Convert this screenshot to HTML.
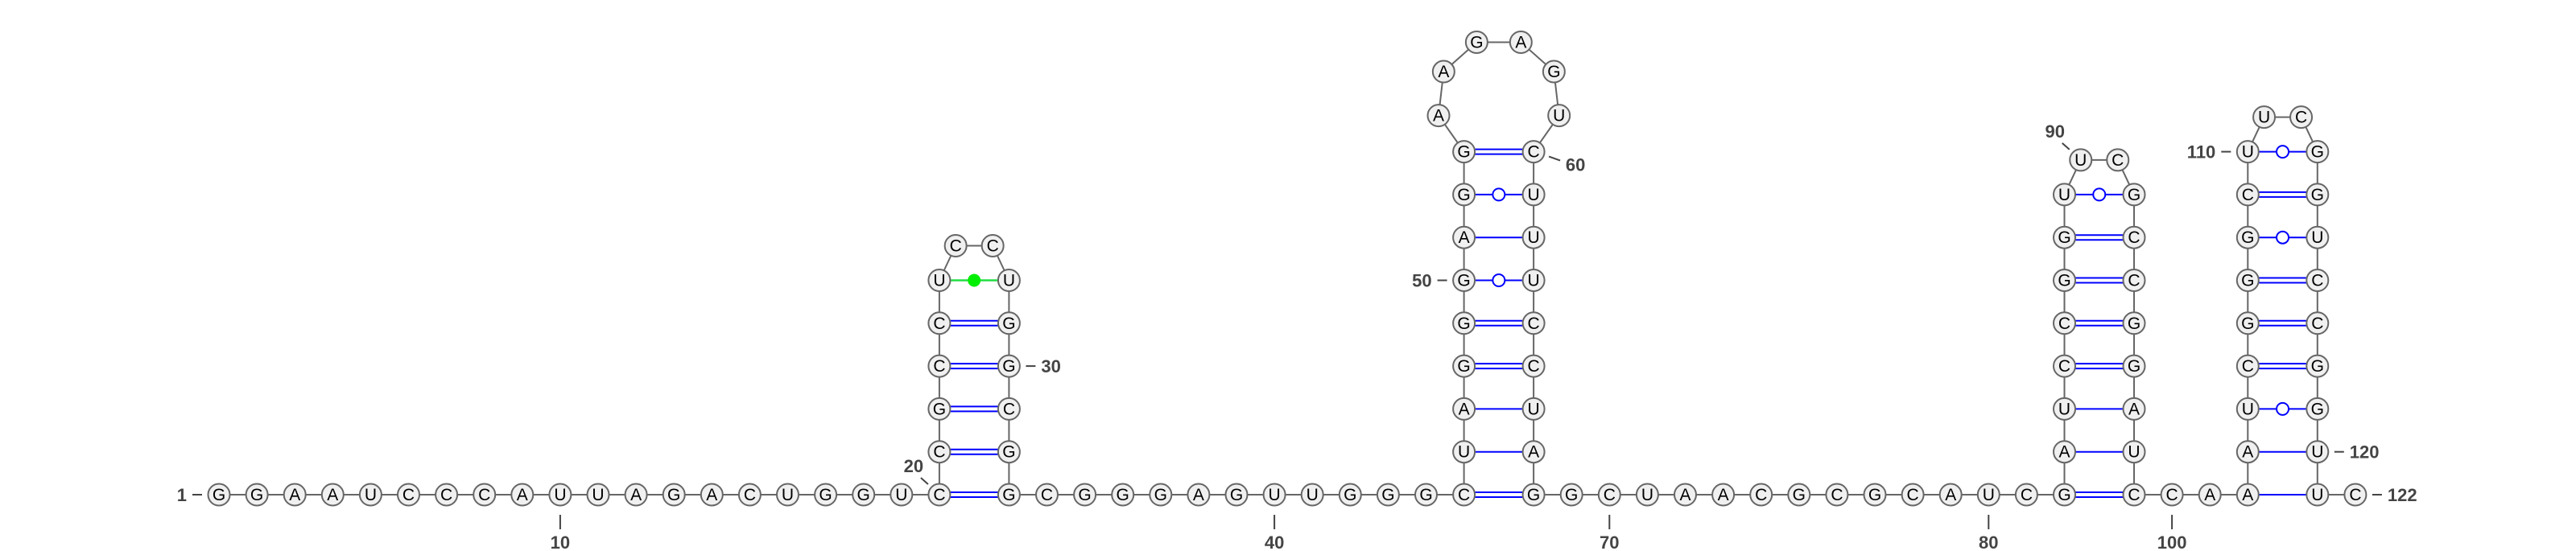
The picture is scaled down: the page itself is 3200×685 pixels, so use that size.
<!DOCTYPE html>
<html><head><meta charset="utf-8"><title>RNA secondary structure</title>
<style>html,body{margin:0;padding:0;background:#fff;}svg{display:block;}</style></head>
<body>
<svg id="chart" width="3200" height="685" viewBox="0 0 3200 685" xmlns="http://www.w3.org/2000/svg" font-family="'Liberation Sans', sans-serif">
<g id="backbone"></g>
<g id="pairs"></g>
<g id="nts"></g>
<g id="labels"></g>
</svg>
<script>
const sequence = "GGAAUCCCAUUAGACUGGU" + "CCGCCUCCUGGCGG" + "CGGGAGUUGGG" + "CUAGGGAGGAAGAGUCUUUCCUAG" + "GCUAACGCGCAUC" + "GAUCCGGUUCGCCGGAUC" + "CA" + "AAUCGGGCUUCGGUCCGGUUC";
const pairOpen  = [20,21,22,23,24,25, 45,46,47,48,49,50,51,52,53, 82,83,84,85,86,87,88,89, 102,103,104,105,106,107,108,109,110];
const pairClose = [33,32,31,30,29,28, 68,67,66,65,64,63,62,61,60, 99,98,97,96,95,94,93,92, 121,120,119,118,117,116,115,114,113];
const labelNums = [1,10,20,30,40,50,60,70,80,90,100,110,120,122];

const NS="http://www.w3.org/2000/svg";
const STEP=47.1, PW=86.5, ROW=53.3, BASE=615, X1=272, R=13.5;
const N=sequence.length;
const pos=new Array(N+1);
const partner={};
pairOpen.forEach((o,i)=>{partner[o]=pairClose[i];partner[pairClose[i]]=o;});
let x=X1;
let i=1;
while(i<=N){
  pos[i]={x:x,y:BASE};
  if(partner[i]&&partner[i]>i){
    const c=partner[i];
    let k=0,a=i,b=c;
    while(partner[a]===b){pos[a]={x:x,y:BASE-k*ROW};pos[b]={x:x+PW,y:BASE-k*ROW};a++;b--;k++;}
    const topY=BASE-(k-1)*ROW;
    const loopLen=b-a+1;
    if(loopLen===2){
      pos[a]={x:x+PW/2-23,y:topY-43};pos[b]={x:x+PW/2+23,y:topY-43};
    } else {
      const cx=x+PW/2, ry=topY-ROW*1.2;
      const rad=Math.hypot(PW/2,topY-ry);
      const a0=Math.atan2(topY-ry,-PW/2), a1=Math.atan2(topY-ry,PW/2);
      const start=a0, span=(2*Math.PI-(a0-a1));
      for(let j=0;j<loopLen;j++){
        const t=start+span*(j+1)/(loopLen+1);
        pos[a+j]={x:cx+rad*Math.cos(t),y:ry+rad*Math.sin(t)};
      }
    }
    pos[c]={x:x+PW,y:BASE};
    x+=PW+STEP; i=c+1;
  } else { x+=STEP; i++; }
}
function el(tag,attrs,parent){const e=document.createElementNS(NS,tag);for(const k in attrs)e.setAttribute(k,attrs[k]);parent.appendChild(e);return e;}
const gB=document.getElementById('backbone'),gP=document.getElementById('pairs'),gN=document.getElementById('nts'),gL=document.getElementById('labels');
for(let j=1;j<N;j++){
  const l=el('line',{x1:pos[j].x,y1:pos[j].y,x2:pos[j+1].x,y2:pos[j+1].y,stroke:'#666','stroke-width':2},gB);
  
  
}
pairOpen.forEach((o,k)=>{
  const c=pairClose[k];const p=pos[o],q=pos[c];
  const pr=sequence[o-1]+sequence[c-1];
  const g=el('g',{},gP);
  
  
  const x1=p.x+R,x2=q.x-R;
  if(pr==='GC'||pr==='CG'){
    el('line',{x1:x1,y1:p.y-3,x2:x2,y2:q.y-3,stroke:'#00f','stroke-width':2},g);
    el('line',{x1:x1,y1:p.y+3,x2:x2,y2:q.y+3,stroke:'#00f','stroke-width':2},g);
  } else if(pr==='AU'||pr==='UA'){
    el('line',{x1:x1,y1:p.y,x2:x2,y2:q.y,stroke:'#00f','stroke-width':2},g);
  } else if(pr==='GU'||pr==='UG'){
    el('line',{x1:x1,y1:p.y,x2:x2,y2:q.y,stroke:'#00f','stroke-width':2},g);
    el('circle',{cx:(p.x+q.x)/2,cy:p.y,r:7.5,fill:'#fff',stroke:'#00f','stroke-width':2},g);
  } else {
    el('line',{x1:x1,y1:p.y,x2:x2,y2:q.y,stroke:'#2d4','stroke-width':2.5},g);
    el('circle',{cx:(p.x+q.x)/2,cy:p.y,r:8,fill:'#0e0'},g);
  }
});
for(let j=1;j<=N;j++){
  const g=el('g',{},gN);
  
  
  el('circle',{cx:pos[j].x,cy:pos[j].y,r:R,fill:'#f0f0f0',stroke:'#666','stroke-width':2},g);
  const t=el('text',{x:pos[j].x,y:pos[j].y+7,'text-anchor':'middle','font-size':21,fill:'#000'},g);
  t.textContent=sequence[j-1];
}
const labelSpec={1:'left',10:'below',20:'upleft',30:'right',40:'below',50:'left',60:'rightdown',70:'below',80:'below',90:'upleft',100:'below',110:'left',120:'right',122:'right'};
labelNums.forEach(n=>{
  const p=pos[n];
  if(!p) return;
  const mode=labelSpec[n];
  const g=el('g',{},gL);
  
  
  let lx1,ly1,lx2,ly2,tx,ty,anchor;
  if(mode==='below'){lx1=lx2=p.x;ly1=p.y+25;ly2=p.y+43;tx=p.x;ty=p.y+67;anchor='middle';}
  else if(mode==='left'){lx1=p.x-33;lx2=p.x-21;ly1=ly2=p.y;tx=p.x-40;ty=p.y+8;anchor='end';}
  else if(mode==='right'){lx1=p.x+21;lx2=p.x+33;ly1=ly2=p.y;tx=p.x+40;ty=p.y+8;anchor='start';}
  else if(mode==='upleft'){lx1=p.x-23;ly1=p.y-21;lx2=p.x-14;ly2=p.y-13;tx=p.x-32;ty=p.y-28;anchor='middle';}
  else {lx1=p.x+19;ly1=p.y+6;lx2=p.x+33;ly2=p.y+11;tx=p.x+52;ty=p.y+24;anchor='middle';}
  el('line',{x1:lx1,y1:ly1,x2:lx2,y2:ly2,stroke:'#444','stroke-width':2},g);
  const t=el('text',{x:tx,y:ty,'text-anchor':anchor,'font-size':22,'font-weight':'bold',fill:'#444'},g);
  t.textContent=String(n);
});
</script>
</body></html>
